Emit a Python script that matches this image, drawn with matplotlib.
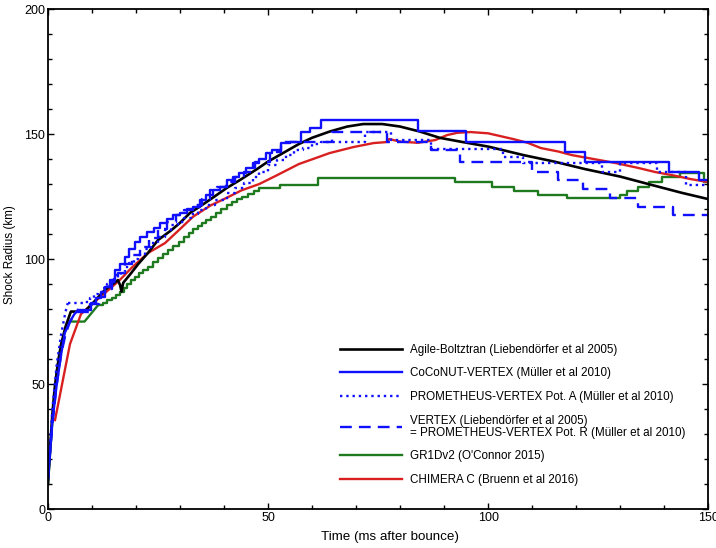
import matplotlib
matplotlib.use("Agg")
import matplotlib.pyplot as plt
from matplotlib.ticker import MultipleLocator

plt.rcParams['font.family'] = ['Liberation Sans', 'DejaVu Sans']

# Agile-Boltztran (smooth curve)
agile_t = [0, 0.5, 1, 1.5, 2, 2.5, 3, 4, 5.2, 8.3, 10, 12.9, 15.9, 16.4, 16.7, 17.1,
           18.9, 20.5, 22.7, 25, 28, 30, 32.3, 34.5, 37, 40.6, 43.6, 47.5, 50, 53,
           57, 60, 64, 68, 71.6, 76, 80, 84.5, 89, 93.6, 100, 108, 115, 122, 130,
           137.5, 144, 150]
agile_r = [10, 25, 38, 48, 55, 61, 66, 73, 79, 79, 82, 87.6, 91.6, 89.5, 87, 90.5,
           94.4, 98, 102.4, 107.6, 111.5, 114.5, 118.5, 121, 124, 128.4, 131.6, 136,
           139, 142, 146, 148.5, 151, 153, 154, 154, 153, 151, 148.5, 147, 145, 141.6,
           139, 136, 133, 129.5, 126.5, 124]

# CoCoNUT-VERTEX: smooth start, then stairs
coconut_t0 = [0, 1, 2, 3, 3.8, 5, 6, 6.8]
coconut_r0 = [12, 35, 50, 62, 70.4, 75, 78, 79.6]
coconut_t = [6.8, 9.8, 11, 12, 13, 14, 15.2, 16.3, 17.4, 18.5, 19.7, 21, 22.5, 24,
             25.5, 27, 28.5, 30, 31.5, 33, 34.5, 36, 37.5, 39, 40.6, 42, 43.5, 45,
             46.5, 48, 49.5, 51, 53, 55, 57.5, 59.5, 62, 84, 95, 117.5, 122, 141,
             148, 150]
coconut_r = [79.6, 82.4, 84.5, 87, 89, 91.5, 95.6, 98, 101, 104, 107, 109, 111, 112.5,
             114.4, 116, 117.5, 118.4, 120, 121, 123.5, 125.6, 127.5, 129, 131.6, 133,
             134.5, 136.5, 138.4, 140, 142.4, 143.5, 146.4, 147, 150.8, 152.5, 155.6,
             151.2, 147, 143, 139, 135, 131.6, 131.6]

# PROMETHEUS-VERTEX Pot. A
potA_t0 = [0, 1, 2, 3, 4, 4.5]
potA_r0 = [12, 40, 58, 70, 79, 82.4]
potA_t = [4.5, 8.3, 9.5, 10.5, 11.4, 12.5, 13.5, 14.5, 15.2, 16.5, 17.5, 18.5, 19.5,
          20.5, 22, 23.5, 25, 26.5, 28, 29.5, 31, 32.5, 34, 36, 38, 40.6, 42.5, 44.5,
          46.5, 48, 50, 52, 54, 56, 58, 60, 62, 72, 78, 87, 103.5, 108, 126, 130,
          138.4, 145, 150]
potA_r = [82.4, 83, 84.5, 86, 87, 88.5, 90, 92, 93.6, 95, 97, 98.5, 100, 101.6, 104,
          106.4, 109, 111.6, 113.5, 115, 116.5, 118, 119.5, 121.5, 123.5, 126.4, 128.5,
          130.5, 133, 135, 137.5, 139.5, 141.5, 143.5, 144.4, 146, 147, 151, 147.5,
          144, 141, 138.4, 135, 138.4, 135, 129.6, 129.6]

# VERTEX = PROMETHEUS-VERTEX Pot. R
potR_t0 = [0, 1, 2, 3, 4, 5, 6.5]
potR_r0 = [12, 34, 50, 62, 70, 75, 79]
potR_t = [6.5, 9.5, 11.5, 13, 14.5, 16, 17.5, 19, 21, 23, 25, 27, 29, 31, 33, 35,
          36.8, 38.5, 40.5, 42.5, 44.5, 47, 50.5, 53, 64.5, 77, 87, 93.6, 110, 116,
          121.6, 127.7, 134, 142, 150]
potR_r = [79, 82, 85, 88, 91, 94.5, 98, 101.5, 105, 108.5, 112, 115, 117.5, 119.5,
          121.5, 124, 127.6, 129, 131, 133, 135, 139, 143, 147, 151, 147, 143.6, 139,
          135, 131.6, 128, 124.4, 120.8, 117.5, 117.5]

# GR1Dv2
gr1d_t0 = [0, 1, 2, 3, 4, 4.9, 8.3, 11.4]
gr1d_r0 = [10, 35, 55, 66, 72, 75, 75, 81.6]
gr1d_t = [11.4, 12.5, 13.5, 14.5, 15.5, 16.3, 17.2, 18, 18.8, 19.7, 20.7, 21.7, 22.7,
          23.8, 25, 26.2, 27.3, 28.5, 29.7, 30.9, 32, 33, 34, 35, 36, 37, 38.2, 39.4,
          40.6, 41.8, 43, 44.2, 45.5, 46.8, 48, 52.7, 61.4, 92.5, 101, 106, 111.4,
          118, 130, 131.5, 134, 136.5, 139.5, 143.6, 149, 150]
gr1d_r = [81.6, 82.6, 83.6, 84.6, 85.8, 87, 88.5, 90, 91.5, 93, 94.3, 95.6, 97, 98.7,
          100.5, 102, 103.6, 105.3, 107, 108.7, 110.4, 112, 113.3, 114.6, 115.8, 117,
          118.5, 120, 121.6, 122.8, 124, 125, 126.2, 127.3, 128.4, 129.8, 132.4, 130.8,
          128.8, 127.2, 125.6, 124.4, 125.6, 127.2, 128.8, 131, 133, 134.4, 131, 131]

# CHIMERA C
chimera_t = [1.6, 5, 7.5, 10, 13, 16.3, 19, 22.7, 26.6, 30, 33, 37, 40.6, 44, 48, 52,
             57, 61, 64, 69.4, 74, 77, 77.5, 80, 84, 88, 90.7, 93, 96, 100, 105.7, 109,
             112, 116, 119, 124, 129, 134, 138, 142, 146, 150]
chimera_r = [35.6, 66, 78, 82, 86.5, 91.6, 96.5, 102.4, 106.4, 112, 117, 121.5, 124.5,
             127.5, 130, 133.5, 138, 140.5, 142.4, 144.8, 146.4, 146.8, 148, 147, 146.5,
             147.6, 149.6, 150.5, 150.8, 150.3, 148, 146.5, 144.4, 143, 141.6, 140,
             138.4, 136.5, 134.8, 133.5, 132, 130.8]

labels = ["Agile-Boltztran (Liebendörfer et al 2005)",
          "CoCoNUT-VERTEX (Müller et al 2010)",
          "PROMETHEUS-VERTEX Pot. A (Müller et al 2010)",
          "VERTEX (Liebendörfer et al 2005)\n= PROMETHEUS-VERTEX Pot. R (Müller et al 2010)",
          "GR1Dv2 (O'Connor 2015)",
          "CHIMERA C (Bruenn et al 2016)"]

blue = '#1010ff'
green = '#1f7a1f'
red = '#d92020'
lw = 1.7
dash = (0, (5, 3))

fig = plt.figure(figsize=(7.16, 5.48), dpi=100)
ax = fig.add_axes([0.067, 0.071, 0.922, 0.9125])

ax.plot(gr1d_t0, gr1d_r0, color=green, lw=lw)
ax.step(gr1d_t, gr1d_r, where='post', color=green, lw=lw)
ax.plot(chimera_t, chimera_r, color=red, lw=lw)
ax.plot(agile_t, agile_r, color='black', lw=1.9)
ax.plot(potR_t0, potR_r0, color=blue, lw=lw, ls=dash)
ax.step(potR_t, potR_r, where='post', color=blue, lw=lw, ls=dash)
ax.plot(potA_t0, potA_r0, color=blue, lw=lw, ls=':')
ax.step(potA_t, potA_r, where='post', color=blue, lw=lw, ls=':')
ax.plot(coconut_t0, coconut_r0, color=blue, lw=lw)
ax.step(coconut_t, coconut_r, where='post', color=blue, lw=lw)

# legend handles in the original order
handles = [
    plt.Line2D([], [], color='black', lw=1.9),
    plt.Line2D([], [], color=blue, lw=lw),
    plt.Line2D([], [], color=blue, lw=lw, ls=':'),
    plt.Line2D([], [], color=blue, lw=lw, ls=dash),
    plt.Line2D([], [], color=green, lw=lw),
    plt.Line2D([], [], color=red, lw=lw),
]
leg = ax.legend(handles, labels, loc='lower left', bbox_to_anchor=(0.4265, 0.025),
                frameon=False, fontsize=8.4, handlelength=5.3, handletextpad=0.7,
                labelspacing=1.0)
leg.get_texts()[3].set_linespacing(1.0)

ax.set_xlim(0, 150)
ax.set_ylim(0, 200)
ax.xaxis.set_major_locator(MultipleLocator(50))
ax.xaxis.set_minor_locator(MultipleLocator(10))
ax.yaxis.set_major_locator(MultipleLocator(50))
ax.yaxis.set_minor_locator(MultipleLocator(10))
ax.tick_params(which='both', direction='in', top=True, right=True, labelsize=9,
               width=1, pad=2)
ax.tick_params(which='major', length=4)
ax.tick_params(which='minor', length=3)
for s in ax.spines.values():
    s.set_linewidth(1.3)

ax.set_xlabel("Time (ms after bounce)", fontsize=9.6)
ax.set_ylabel("Shock Radius (km)", fontsize=8.4)
ax.xaxis.set_label_coords(0.518, -0.043)
ax.yaxis.set_label_coords(-0.049, 0.508)

fig.savefig("out.png", dpi=100)
